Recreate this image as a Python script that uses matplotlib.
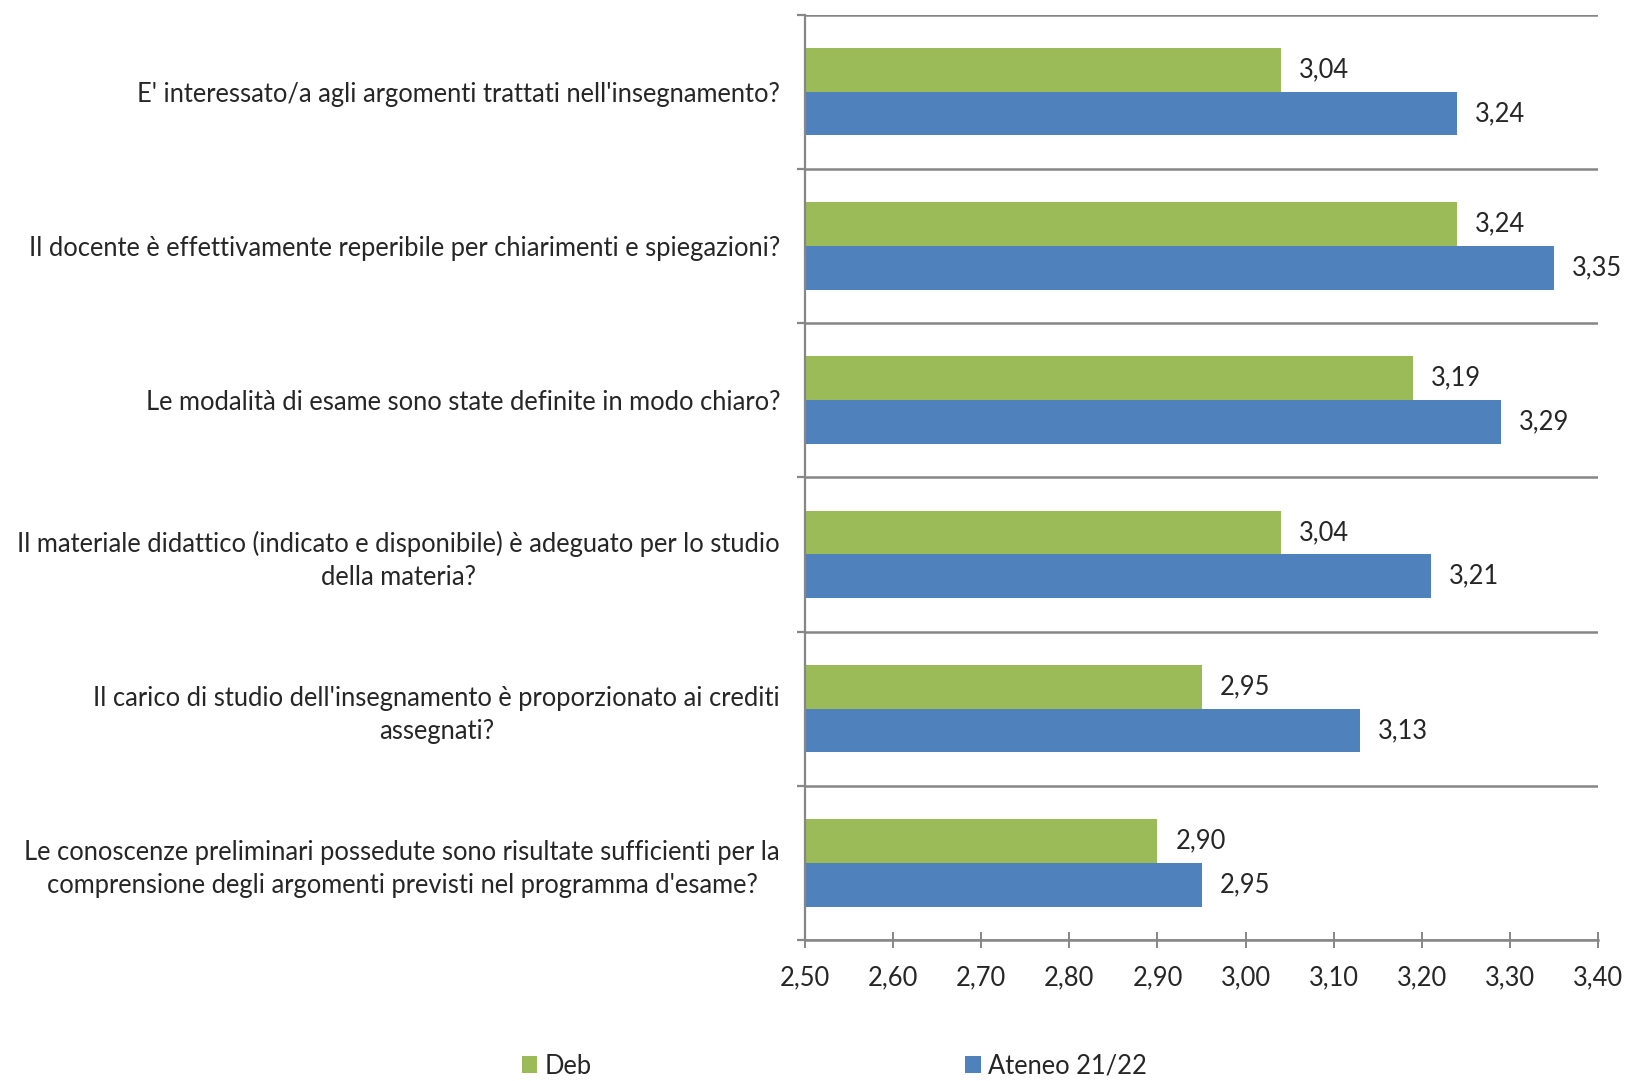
import matplotlib
matplotlib.use("Agg")
import matplotlib.pyplot as plt
import numpy as np
from matplotlib.patches import Patch

categories = [
    "E' interessato/a agli argomenti trattati nell'insegnamento?",
    "Il docente è effettivamente reperibile per chiarimenti e spiegazioni?",
    "Le modalità di esame sono state definite in modo chiaro?",
    "Il materiale didattico (indicato e disponibile) è adeguato per lo studio\ndella materia?",
    "Il carico di studio dell'insegnamento è proporzionato ai crediti\nassegnati?",
    "Le conoscenze preliminari possedute sono risultate sufficienti per la\ncomprensione degli argomenti previsti nel programma d'esame?",
]
deb = [3.04, 3.24, 3.19, 3.04, 2.95, 2.90]
ateneo = [3.24, 3.35, 3.29, 3.21, 3.13, 2.95]
series_names = ["Deb", "Ateneo 21/22"]
xticks = [2.50, 2.60, 2.70, 2.80, 2.90, 3.00, 3.10, 3.20, 3.30, 3.40]

GREEN = "#9BBB59"
BLUE = "#4F81BD"
GRAY = "#868686"
FONT = "Lato"
FS = 18.4

plt.rcParams['font.family'] = [FONT, 'DejaVu Sans']

fig = plt.figure(figsize=(16.27, 10.81), dpi=100)
ax = fig.add_axes([805/1627, 1-940/1081, (1598-805)/1627, (940-14.5)/1081])

y = np.arange(len(categories))
h = 0.283
base = 2.5
ax.barh(y - h/2, np.array(deb) - base, left=base, height=h, color=GREEN)
ax.barh(y + h/2, np.array(ateneo) - base, left=base, height=h, color=BLUE)

def fmt(v):
    return f"{v:.2f}".replace(".", ",")

for i, v in enumerate(deb):
    ax.annotate(fmt(v), (v, y[i] - h/2), xytext=(13, 0), textcoords="offset points",
                va="center", ha="left", fontsize=FS, color="#262626")
for i, v in enumerate(ateneo):
    ax.annotate(fmt(v), (v, y[i] + h/2), xytext=(13, 0), textcoords="offset points",
                va="center", ha="left", fontsize=FS, color="#262626")

ax.set_xlim(2.5, 3.4)
ax.set_ylim(len(categories) - 0.5, -0.5)
ax.set_xticks(xticks)
ax.set_xticklabels([fmt(v) for v in xticks], fontsize=FS, color="#262626")
ax.set_yticks(y)
ax.set_yticklabels(categories, fontsize=FS, color="#262626", ha="right",
                   multialignment="center", linespacing=1.4)
ax.set_yticks(np.arange(-0.5, len(categories), 1.0), minor=True)

ax.tick_params(axis="y", which="major", length=0, pad=18)
ax.tick_params(axis="y", which="minor", length=6, width=1.6, color=GRAY, direction="out")
ax.tick_params(axis="x", which="major", length=12, width=1.4, color=GRAY, direction="inout", pad=12)
ax.grid(axis="y", which="minor", color=GRAY, linewidth=1.8)
ax.set_axisbelow(True)

for s in ["top", "right"]:
    ax.spines[s].set_visible(False)
ax.spines["left"].set_color(GRAY)
ax.spines["left"].set_linewidth(1.6)
ax.spines["bottom"].set_color(GRAY)
ax.spines["bottom"].set_linewidth(1.8)

handles = [Patch(facecolor=GREEN), Patch(facecolor=BLUE)]
fig.legend(handles, series_names, ncol=2, loc="center left", bbox_to_anchor=(522/1627, 1-1066/1081),
           frameon=False, fontsize=FS, handlelength=0.6, handleheight=0.6, handletextpad=0.3,
           columnspacing=14.6, labelcolor="#262626", borderaxespad=0, borderpad=0)

fig.savefig("out.png", dpi=100, facecolor="white")
